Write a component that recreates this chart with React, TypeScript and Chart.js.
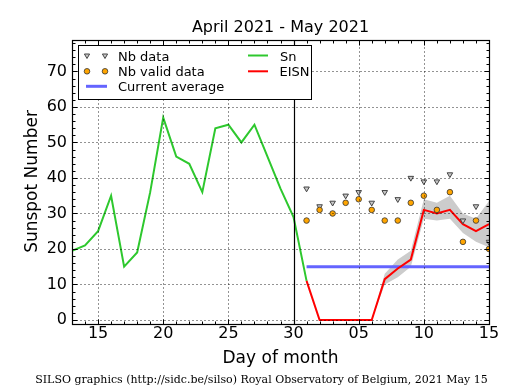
import React, { useEffect, useRef } from 'react';
import { Chart, registerables } from 'chart.js';

Chart.register(...registerables);

// ---- texts ----
const titleText = 'April 2021 - May 2021';
const xAxisTitle = 'Day of month';
const yAxisTitle = 'Sunspot Number';
const footerText = 'SILSO graphics (http://sidc.be/silso) Royal Observatory of Belgium, 2021 May 15';

// ---- axes (x = day counted from 1 April; 31 = 1 May) ----
const xMin = 13;
const xMax = 45;
const yMin = -1;
const yMax = 79;
const xTickValues = [15, 20, 25, 30, 35, 40, 45];
const xTickLabels = ['15', '20', '25', '30', '05', '10', '15'];
const yTickValues = [0, 10, 20, 30, 40, 50, 60, 70];
const dividerDay = 30;

// ---- Sn (daily sunspot number) 13 Apr .. 1 May ----
const snDays = [13, 14, 15, 16, 17, 18, 19, 20, 21, 22, 23, 24, 25, 26, 27, 28, 29, 30, 31];
const snValues = [19.5, 21, 25, 35, 15, 19, 36, 57, 46, 44, 36, 54, 55, 50, 55, 46, 37, 29, 11];

// ---- EISN 1 May .. 15 May ----
const eisnDays = [31, 32, 33, 34, 35, 36, 37, 38, 39, 40, 41, 42, 43, 44, 45];
const eisnValues = [11, 0, 0, 0, 0, 0, 11.5, 14.5, 17, 31, 30, 31, 27, 25, 27];

// ---- EISN error band 6 May .. 15 May ----
const bandDays = [36, 37, 38, 39, 40, 41, 42, 43, 44, 45];
const bandUpper = [0, 13, 17, 19.5, 34, 33, 35, 30, 28.5, 33.5];
const bandLower = [0, 10, 12, 15, 28.5, 28, 28.5, 24.5, 22, 20.5];

// ---- station counts 1 May .. 15 May ----
const nbDays = [31, 32, 33, 34, 35, 36, 37, 38, 39, 40, 41, 42, 43, 44, 45];
const nbData = [37, 32, 33, 35, 36, 33, 36, 34, 40, 39, 39, 41, 28, 32, 22];
const nbValid = [28, 31, 30, 33, 34, 31, 28, 28, 33, 35, 31, 36, 22, 28, 20];

// ---- current average ----
const avgDays = [31, 45];
const avgValues = [15, 15];

const GREEN = '#2ec82e';
const RED = '#ff0000';
const BLUE = '#6464ff';
const ORANGE = '#ffa500';
const BAND = '#cccccc';
const TRI_FILL = '#c8c8c8';
const TRI_EDGE = '#444444';

const pts = (xs: number[], ys: number[]) => xs.map((x, i) => ({ x, y: ys[i] }));

function drawTriangle(ctx: CanvasRenderingContext2D, x: number, y: number, r: number) {
  ctx.beginPath();
  ctx.moveTo(x - r * 0.866, y - r * 0.5);
  ctx.lineTo(x + r * 0.866, y - r * 0.5);
  ctx.lineTo(x, y + r);
  ctx.closePath();
  ctx.fillStyle = TRI_FILL;
  ctx.fill();
  ctx.lineWidth = 1;
  ctx.strokeStyle = TRI_EDGE;
  ctx.stroke();
}

function drawCircle(ctx: CanvasRenderingContext2D, x: number, y: number, r: number) {
  ctx.beginPath();
  ctx.arc(x, y, r, 0, Math.PI * 2);
  ctx.fillStyle = ORANGE;
  ctx.fill();
  ctx.lineWidth = 0.8;
  ctx.strokeStyle = '#333';
  ctx.stroke();
}

const decorPlugin = {
  id: 'decor',
  beforeDraw(chart: any) {
    const ctx = chart.ctx as CanvasRenderingContext2D;
    ctx.save();
    ctx.fillStyle = '#ffffff';
    ctx.fillRect(0, 0, chart.width, chart.height);
    ctx.restore();
  },
  afterDatasetsDraw(chart: any) {
    const ctx = chart.ctx as CanvasRenderingContext2D;
    const a = chart.chartArea;
    const xs = chart.scales.x;
    const ys = chart.scales.y;
    const L = Math.round(a.left) + 0.5;
    const R = Math.round(a.right) + 0.5;
    const T = Math.round(a.top) + 0.5;
    const B = Math.round(a.bottom) + 0.5;

    ctx.save();
    // grid
    ctx.strokeStyle = 'rgba(0,0,0,0.85)';
    ctx.lineWidth = 1;
    ctx.setLineDash([1, 3]);
    xTickValues.forEach((v) => {
      const px = Math.round(xs.getPixelForValue(v)) + 0.5;
      ctx.beginPath();
      ctx.moveTo(px, B);
      ctx.lineTo(px, T);
      ctx.stroke();
    });
    yTickValues.forEach((v) => {
      const py = Math.round(ys.getPixelForValue(v)) + 0.5;
      ctx.beginPath();
      ctx.moveTo(L, py);
      ctx.lineTo(R, py);
      ctx.stroke();
    });
    ctx.setLineDash([]);

    // divider line
    const dx = Math.round(xs.getPixelForValue(dividerDay)) + 0.5;
    ctx.strokeStyle = '#000';
    ctx.lineWidth = 1.2;
    ctx.beginPath();
    ctx.moveTo(dx, T);
    ctx.lineTo(dx, B);
    ctx.stroke();

    // frame
    ctx.lineWidth = 1.2;
    ctx.strokeRect(L, T, R - L, B - T);

    // ticks (inward, all sides)
    ctx.lineWidth = 1;
    const major = 5;
    const minor = 3;
    for (let d = xMin; d <= xMax; d++) {
      const px = Math.round(xs.getPixelForValue(d)) + 0.5;
      const len = xTickValues.includes(d) ? major : minor;
      ctx.beginPath();
      ctx.moveTo(px, B);
      ctx.lineTo(px, B - len);
      ctx.moveTo(px, T);
      ctx.lineTo(px, T + len);
      ctx.stroke();
    }
    for (let v = 0; v <= 78; v += 2) {
      const py = Math.round(ys.getPixelForValue(v)) + 0.5;
      const len = yTickValues.includes(v) ? major : minor;
      ctx.beginPath();
      ctx.moveTo(L, py);
      ctx.lineTo(L + len, py);
      ctx.moveTo(R, py);
      ctx.lineTo(R - len, py);
      ctx.stroke();
    }

    // legend
    const lx0 = 78.5, ly0 = 45.5, lx1 = 311.5, ly1 = 99.5;
    ctx.fillStyle = '#fff';
    ctx.fillRect(lx0, ly0, lx1 - lx0, ly1 - ly0);
    ctx.strokeStyle = '#000';
    ctx.lineWidth = 1;
    ctx.strokeRect(lx0, ly0, lx1 - lx0, ly1 - ly0);
    const rows = [55.5, 71.3, 86.3];
    drawTriangle(ctx, 87, rows[0], 3);
    drawTriangle(ctx, 105, rows[0], 3);
    drawCircle(ctx, 87, rows[1], 2.8);
    drawCircle(ctx, 105, rows[1], 2.8);
    ctx.strokeStyle = BLUE;
    ctx.lineWidth = 3;
    ctx.beginPath();
    ctx.moveTo(86, rows[2]);
    ctx.lineTo(107, rows[2]);
    ctx.stroke();
    ctx.strokeStyle = GREEN;
    ctx.lineWidth = 2;
    ctx.beginPath();
    ctx.moveTo(248, rows[0]);
    ctx.lineTo(268, rows[0]);
    ctx.stroke();
    ctx.strokeStyle = RED;
    ctx.beginPath();
    ctx.moveTo(248, rows[1]);
    ctx.lineTo(268, rows[1]);
    ctx.stroke();

    ctx.fillStyle = '#000';
    ctx.font = '13px "DejaVu Sans"';
    ctx.textAlign = 'left';
    ctx.textBaseline = 'alphabetic';
    ctx.fillText('Nb data', 118, 60.5);
    ctx.fillText('Nb valid data', 118, 76);
    ctx.fillText('Current average', 118, 91.3);
    ctx.fillText('Sn', 280, 60.5);
    ctx.fillText('EISN', 279.5, 76);

    // title and axis titles
    const cx = (a.left + a.right) / 2;
    ctx.textAlign = 'center';
    ctx.font = '16px "DejaVu Sans"';
    ctx.fillText(titleText, cx, 32.3);
    ctx.font = '17px "DejaVu Sans"';
    ctx.fillText(xAxisTitle, cx, 363.3);
    ctx.save();
    ctx.translate(37, (a.top + a.bottom) / 2);
    ctx.rotate(-Math.PI / 2);
    ctx.fillText(yAxisTitle, 0, 0);
    ctx.restore();
    ctx.font = '11px "DejaVu Serif"';
    ctx.fillText(footerText, 261.5, 383);
    ctx.restore();
  },
};

export default function App() {
  const ref = useRef<HTMLCanvasElement | null>(null);

  useEffect(() => {
    if (!ref.current) return;
    const chart = new Chart(ref.current, {
      type: 'line',
      data: {
        datasets: [
          {
            label: 'Nb valid data',
            data: pts(nbDays, nbValid),
            showLine: false,
            pointStyle: 'circle',
            pointRadius: 2.8,
            pointBackgroundColor: ORANGE,
            pointBorderColor: '#333',
            pointBorderWidth: 0.8,
          },
          {
            label: 'Nb data',
            data: pts(nbDays, nbData),
            showLine: false,
            pointStyle: 'triangle',
            rotation: 180,
            pointRadius: 3.2,
            pointBackgroundColor: TRI_FILL,
            pointBorderColor: TRI_EDGE,
            pointBorderWidth: 1,
          },
          {
            label: 'EISN',
            data: pts(eisnDays, eisnValues),
            borderColor: RED,
            borderWidth: 2,
            pointRadius: 0,
            fill: false,
          },
          {
            label: 'Sn',
            data: pts(snDays, snValues),
            borderColor: GREEN,
            borderWidth: 2,
            pointRadius: 0,
            fill: false,
          },
          {
            label: 'Current average',
            data: pts(avgDays, avgValues),
            borderColor: BLUE,
            borderWidth: 3,
            pointRadius: 0,
            fill: false,
          },
          {
            label: 'band upper',
            data: pts(bandDays, bandUpper),
            borderWidth: 0,
            borderColor: 'rgba(0,0,0,0)',
            pointRadius: 0,
            fill: false,
          },
          {
            label: 'band lower',
            data: pts(bandDays, bandLower),
            borderWidth: 0,
            borderColor: 'rgba(0,0,0,0)',
            backgroundColor: BAND,
            pointRadius: 0,
            fill: '-1',
          },
        ],
      },
      options: {
        responsive: false,
        devicePixelRatio: 1,
        animation: false,
        events: [],
        layout: { padding: { left: 0, top: 39.5, right: 26, bottom: 0 } },
        plugins: {
          legend: { display: false },
          title: { display: false },
          tooltip: { enabled: false },
          filler: { drawTime: 'beforeDatasetsDraw' },
        },
        scales: {
          x: {
            type: 'linear',
            min: xMin,
            max: xMax,
            grid: { display: false, drawTicks: false },
            border: { display: false },
            afterFit: (s: any) => {
              s.height = 66.5;
            },
            afterBuildTicks: (s: any) => {
              s.ticks = xTickValues.map((v) => ({ value: v }));
            },
            ticks: {
              autoSkip: false,
              maxRotation: 0,
              padding: 1,
              color: '#000',
              font: { family: 'DejaVu Sans', size: 16 },
              callback: (v: any) => {
                const i = xTickValues.indexOf(Number(v));
                return i >= 0 ? xTickLabels[i] : '';
              },
            },
          },
          y: {
            type: 'linear',
            min: yMin,
            max: yMax,
            grid: { display: false, drawTicks: false },
            border: { display: false },
            afterFit: (s: any) => {
              s.width = 72;
            },
            afterBuildTicks: (s: any) => {
              s.ticks = yTickValues.map((v) => ({ value: v }));
            },
            ticks: {
              autoSkip: false,
              padding: 5,
              color: '#000',
              font: { family: 'DejaVu Sans', size: 16 },
            },
          },
        },
      },
      plugins: [decorPlugin],
    } as any);
    return () => chart.destroy();
  }, []);

  return (
    <div style={{ position: 'fixed', left: 0, top: 0, width: 515, height: 390, background: '#fff' }}>
      <canvas ref={ref} width={515} height={390} style={{ width: 515, height: 390, display: 'block' }} />
    </div>
  );
}
